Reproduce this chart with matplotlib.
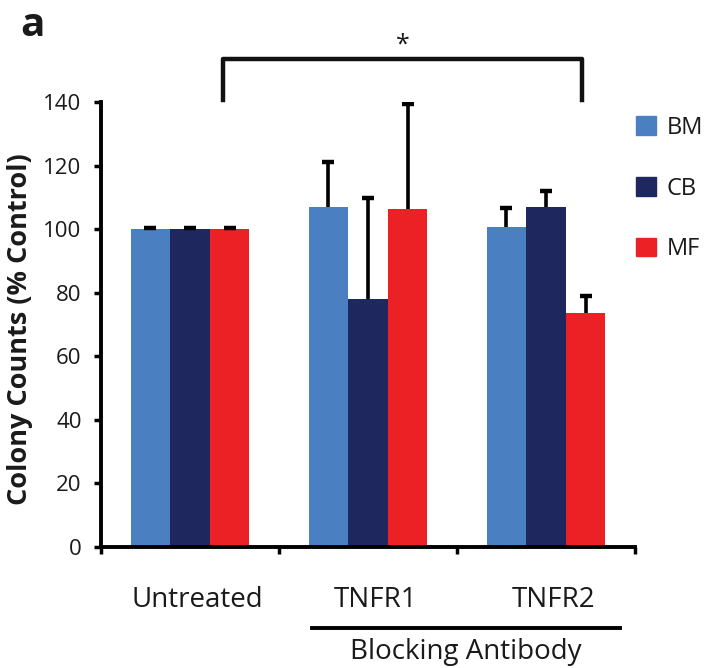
import matplotlib
matplotlib.use("Agg")
import matplotlib.pyplot as plt
import matplotlib.transforms as mtransforms
import numpy as np

categories = ["Untreated", "TNFR1", "TNFR2"]
series = ["BM", "CB", "MF"]
bm = [100.0, 107.0, 100.8]
cb = [100.0, 77.9, 106.9]
mf = [100.0, 106.3, 73.6]
bm_err = [0.5, 14.0, 5.8]
cb_err = [0.5, 31.8, 5.0]
mf_err = [0.5, 33.0, 5.4]
yticks = [0, 20, 40, 60, 80, 100, 120, 140]

colors = ["#4A80C1", "#1E285E", "#EC2125"]
FONT = "Open Sans"
TXT = "#1a1a1a"

fig = plt.figure(figsize=(7.13, 6.68), dpi=100)
ax = fig.add_axes([101/713, 1-547/668, (635-101)/713, (547-102)/668])

w = 0.222
centers = np.arange(len(categories)) + 0.5
for i, (vals, errs) in enumerate(zip([bm, cb, mf], [bm_err, cb_err, mf_err])):
    x = centers + (i - 1) * w
    vals = np.array(vals)
    errs = np.array(errs)
    ax.bar(x, vals, width=w, color=colors[i], label=series[i], zorder=2)
    ax.vlines(x, vals, vals + errs, color="black", lw=2.6, zorder=3)
    ax.plot(x, vals + errs, linestyle="none", marker="_", markersize=8.5,
            markeredgewidth=3.2, color="black", zorder=4)

ax.set_xlim(0, 3)
ax.set_ylim(0, 140)
ax.set_yticks(yticks)
ax.set_yticklabels([str(t) for t in yticks], fontsize=16, family=FONT, color=TXT)
ax.set_xticks([0, 1, 2, 3])
ax.set_xticklabels([])
ax.tick_params(axis="both", direction="out", width=2.5, length=5)
ax.tick_params(axis="y", pad=9)
for s in ["top", "right"]:
    ax.spines[s].set_visible(False)
for s in ["left", "bottom"]:
    ax.spines[s].set_linewidth(2.8)

# category labels
trans = mtransforms.blended_transform_factory(ax.transData, fig.transFigure)
for c, lab in zip(centers, categories):
    ax.text(c + 0.04, 1-600/668, lab, transform=trans,
            ha="center", va="center", fontsize=20, family=FONT, color=TXT)

fig.text(20/713, 1-329/668, "Colony Counts (% Control)", rotation=90, ha="center", va="center",
         fontsize=19.5, fontweight="bold", family=FONT, color=TXT)

# blocking antibody underline
fig.add_artist(plt.Line2D([312/713, 620/713], [1-628/668, 1-628/668], color="black", lw=2.8))
fig.text(466/713, 1-652/668, "Blocking Antibody", ha="center", va="center", fontsize=20, family=FONT, color=TXT)

# significance bracket
bx0, bx1 = 223/713, 582/713
by0, by1 = 1-100/668, 1-59/668
fig.add_artist(plt.Line2D([bx0, bx0, bx1, bx1], [by0, by1, by1, by0], color="#111111", lw=3.2))
fig.text((bx0+bx1)/2, 1-45/668, "*", ha="center", va="center", fontsize=18, family=FONT, color=TXT)

fig.text(32/713, 1-26/668, "a", ha="center", va="center", fontsize=29, fontweight="bold", family=FONT, color=TXT)

# legend
handles = [plt.Rectangle((0, 0), 1, 1, color=c) for c in colors]
leg = fig.legend(handles, series, loc="upper left", bbox_to_anchor=(636/713, 1-116/668),
                 frameon=False, prop={"family": FONT, "size": 17}, handlelength=0.85, handleheight=0.85,
                 labelspacing=1.55, handletextpad=0.45, borderpad=0, borderaxespad=0)
for t in leg.get_texts():
    t.set_color(TXT)

fig.savefig("out.png", dpi=100)
